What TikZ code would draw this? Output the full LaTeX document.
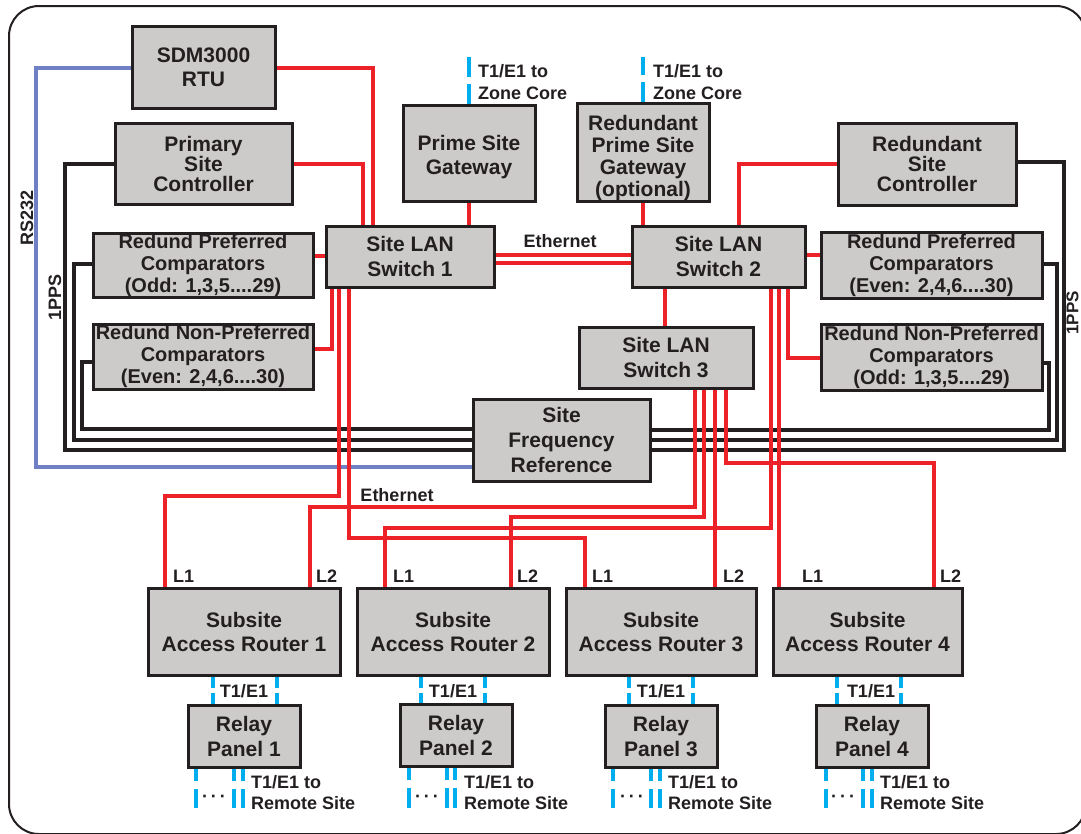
\documentclass[tikz,border=0pt]{standalone}
\usepackage{fontspec}
\setmainfont{Liberation Sans}
\usetikzlibrary{calc}
\definecolor{boxc}{RGB}{205,203,202}
\definecolor{bordc}{RGB}{35,31,32}
\definecolor{txtc}{RGB}{35,31,32}
\definecolor{redc}{RGB}{237,34,40}
\definecolor{cyanc}{RGB}{0,174,239}
\definecolor{bluec}{RGB}{112,128,196}
\begin{document}
\begin{tikzpicture}[x=1pt,y=-1pt,
  box/.style={draw=bordc, line width=3pt, fill=boxc, inner sep=0pt, align=center, text=txtc,
    font=\bfseries\fontsize{21}{24}\selectfont},
  cmp/.style={box, font=\bfseries\fontsize{20}{22}\selectfont},
  redl/.style={draw=redc, line width=4pt},
  blk/.style={draw=bordc, line width=4pt},
  bluel/.style={draw=bluec, line width=3.5pt},
  cyl/.style={draw=cyanc, line width=4pt},
  lbl/.style={text=txtc, inner sep=0pt, font=\bfseries\fontsize{18}{21}\selectfont},
  zlbl/.style={lbl, align=left, anchor=north west, font=\bfseries\fontsize{18}{22}\selectfont},
  rlbl/.style={lbl, align=left, anchor=north west}
]
\useasboundingbox (0,0) rectangle (1081,833);
\draw[line width=2pt, draw=bordc, rounded corners=30pt] (9,6) rectangle (1086,834);

% ---- nodes ----
\node[box, minimum width=143pt, minimum height=82pt] (rtu) at (203.5,67) {SDM3000\\RTU};
\node[box, minimum width=177pt, minimum height=81pt, font=\bfseries\fontsize{21}{20}\selectfont] (psc) at (203.5,163.5) {Primary\\Site\\Controller};
\node[cmp, minimum width=220pt, minimum height=64pt] (rpc1) at (203,265) {Redund Preferred\\Comparators\\(Odd: 1,3,5....29)};
\node[cmp, minimum width=220pt, minimum height=65pt] (rnp1) at (203,356.5) {Redund Non-Preferred\\Comparators\\(Even: 2,4,6....30)};
\node[box, minimum width=168pt, minimum height=61pt, font=\bfseries\fontsize{21}{25}\selectfont] (sw1) at (410,256.5) {Site LAN\\Switch 1};
\node[box, minimum width=132pt, minimum height=96pt] (psg) at (469,153) {\rule{0pt}{23pt}Prime Site\\Gateway};
\node[box, minimum width=132pt, minimum height=97pt, font=\bfseries\fontsize{21}{22}\selectfont] (rpsg) at (643,152.5) {\rule{0pt}{27pt}Redundant\\Prime Site\\Gateway\\(optional)};
\node[box, minimum width=173pt, minimum height=61pt, font=\bfseries\fontsize{21}{25}\selectfont] (sw2) at (718.5,256.5) {Site LAN\\Switch 2};
\node[box, minimum width=178pt, minimum height=82pt, font=\bfseries\fontsize{21}{20}\selectfont] (rsc) at (927,164) {Redundant\\Site\\Controller};
\node[cmp, minimum width=221pt, minimum height=66pt] (rpc2) at (931.5,265) {Redund Preferred\\Comparators\\(Even: 2,4,6....30)};
\node[cmp, minimum width=221pt, minimum height=66pt] (rnp2) at (931.5,357) {Redund Non-Preferred\\Comparators\\(Odd: 1,3,5....29)};
\node[box, minimum width=174pt, minimum height=61pt, font=\bfseries\fontsize{21}{25}\selectfont] (sw3) at (666,357.5) {Site LAN\\Switch 3};
\node[box, minimum width=177pt, minimum height=82pt, font=\bfseries\fontsize{21}{25}\selectfont] (sfr) at (561.5,440) {Site\\Frequency\\Reference};

\node[box, minimum width=192pt, minimum height=87pt] (r1) at (244,631.5) {Subsite\\Access Router 1};
\node[box, minimum width=192pt, minimum height=87pt] (r2) at (453,631.5) {Subsite\\Access Router 2};
\node[box, minimum width=190pt, minimum height=87pt] (r3) at (661,631.5) {Subsite\\Access Router 3};
\node[box, minimum width=189pt, minimum height=87pt] (r4) at (867.5,631.5) {Subsite\\Access Router 4};

\node[box, minimum width=112pt, minimum height=62pt, font=\bfseries\fontsize{21}{25}\selectfont] (p1) at (244,736) {Relay\\Panel 1};
\node[box, minimum width=112pt, minimum height=62pt, font=\bfseries\fontsize{21}{25}\selectfont] (p2) at (456,735) {Relay\\Panel 2};
\node[box, minimum width=112pt, minimum height=62pt, font=\bfseries\fontsize{21}{25}\selectfont] (p3) at (661,736) {Relay\\Panel 3};
\node[box, minimum width=112pt, minimum height=62pt, font=\bfseries\fontsize{21}{25}\selectfont] (p4) at (872,736) {Relay\\Panel 4};

% ---- black 1PPS lines ----
\draw[blk] (psc.west) -| (65,450) -- (sfr.west |- 0,450);
\draw[blk] (rpc1.west |- 0,264) -| (74,440) -- (sfr.west |- 0,440);
\draw[blk] (rnp1.west |- 0,362) -| (82,429) -- (sfr.west |- 0,429);
\draw[blk] (rsc.east |- 0,162) -| (1064,450) -- (sfr.east |- 0,450);
\draw[blk] (rpc2.east |- 0,264) -| (1057,440) -- (sfr.east |- 0,440);
\draw[blk] (rnp2.east |- 0,363) -| (1049,430) -- (sfr.east |- 0,430);

% ---- blue RS232 ----
\draw[bluel] (rtu.west |- 0,68) -| (36,467) -- (sfr.west |- 0,467);

% ---- red ethernet ----
\draw[redl] (rtu.east |- 0,68) -| (373,0 |- sw1.north);
\draw[redl] (psc.east) -| (363,0 |- sw1.north);
\draw[redl] (psg.south) -- (psg.south |- sw1.north);
\draw[redl] (rpsg.south) -- (rpsg.south |- sw2.north);
\draw[redl] (rsc.west) -| (739,0 |- sw2.north);
\draw[redl] (sw1.east |- 0,255) -- (sw2.west |- 0,255);
\draw[redl] (sw1.east |- 0,263) -- (sw2.west |- 0,263);
\draw[redl] (rpc1.east |- 0,256) -- (sw1.west |- 0,256);
\draw[redl] (rnp1.east |- 0,349) -| (332,0 |- sw1.south);
\draw[redl] (sw2.east |- 0,255) -- (rpc2.west |- 0,255);
\draw[redl] (788,0 |- sw2.south) |- (rnp2.west |- 0,358);
\draw[redl] (665,0 |- sw2.south) -- (665,0 |- sw3.north);
\draw[redl] (339,0 |- sw1.south) -- (339,496) -| (165,0 |- r1.north);
\draw[redl] (349,0 |- sw1.south) -- (349,538) -| (585,0 |- r3.north);
\draw[redl] (695,0 |- sw3.south) -- (695,507) -| (310,0 |- r1.north);
\draw[redl] (704,0 |- sw3.south) -- (704,517) -| (511,0 |- r2.north);
\draw[redl] (715,0 |- sw3.south) -- (715,0 |- r3.north);
\draw[redl] (726,0 |- sw3.south) -- (726,463) -| (934,0 |- r4.north);
\draw[redl] (771,0 |- sw2.south) -- (771,528) -| (385,0 |- r2.north);
\draw[redl] (779,0 |- sw2.south) -- (779,0 |- r4.north);

% ---- cyan T1/E1 ----
\coordinate (z1) at (469,57);
\coordinate (z2) at (643,57);
\draw[cyl, dash pattern=on 20pt off 7pt] (psg.north) -- (z1);
\draw[cyl, dash pattern=on 20pt off 7pt] (rpsg.north) -- (z2);
\foreach \r/\p/\a/\b in {r1/p1/213/277, r2/p2/421/485, r3/p3/629/693, r4/p4/837/901}{
  \draw[cyl, dash pattern=on 11pt off 5pt] (\a,0 |- \r.south) -- (\a,0 |- \p.north);
  \draw[cyl, dash pattern=on 11pt off 5pt] (\b,0 |- \r.south) -- (\b,0 |- \p.north);
}
\foreach \p/\a/\b/\c in {p1/196/234/243, p2/409/447/455, p3/613/651/660, p4/826/863/872}{
  \coordinate (\p a) at (\a,808);
  \coordinate (\p b) at (\b,808);
  \coordinate (\p c) at (\c,808);
  \draw[cyl, dash pattern=on 12pt off 8pt on 40pt off 8pt] (\a,0 |- \p.south) -- (\p a);
  \draw[cyl, dash pattern=on 12pt off 8pt on 40pt off 8pt] (\b,0 |- \p.south) -- (\p b);
  \draw[cyl, dash pattern=on 12pt off 8pt on 40pt off 8pt] (\c,0 |- \p.south) -- (\p c);
}

% ---- labels ----
\node[zlbl] (zl1) at (478,64) {T1/E1 to\\Zone Core};
\node[zlbl] (zl2) at (653,64) {T1/E1 to\\Zone Core};
\node[lbl] (eth1) at (560,241) {Ethernet};
\node[lbl] (eth2) at (397,495) {Ethernet};
\node[lbl, rotate=90] (rs) at (27,218) {RS232};
\node[lbl, rotate=90] (pps1) at (55,297) {1PPS};
\node[lbl, rotate=90, font=\bfseries\fontsize{17}{20}\selectfont] (pps2) at (1072.5,313) {1PPS};

\foreach \x/\t in {173/L1, 316/L2, 393/L1, 517/L2, 592/L1, 723/L2, 802/L1, 940/L2}{
  \node[lbl, anchor=west] at (\x,576) {\t};
}
\foreach \x in {244,453,661,871}{
  \node[lbl] at (\x,691) {T1/E1};
}
\foreach \x/\d in {251/214, 464/427, 668/632, 880/843}{
  \node[rlbl] at (\x,775.5) {T1/E1 to\\Remote Site};
  \node[lbl] at (\d,799) {·\hspace{3pt}·\hspace{3pt}·};
}
\end{tikzpicture}
\end{document}
